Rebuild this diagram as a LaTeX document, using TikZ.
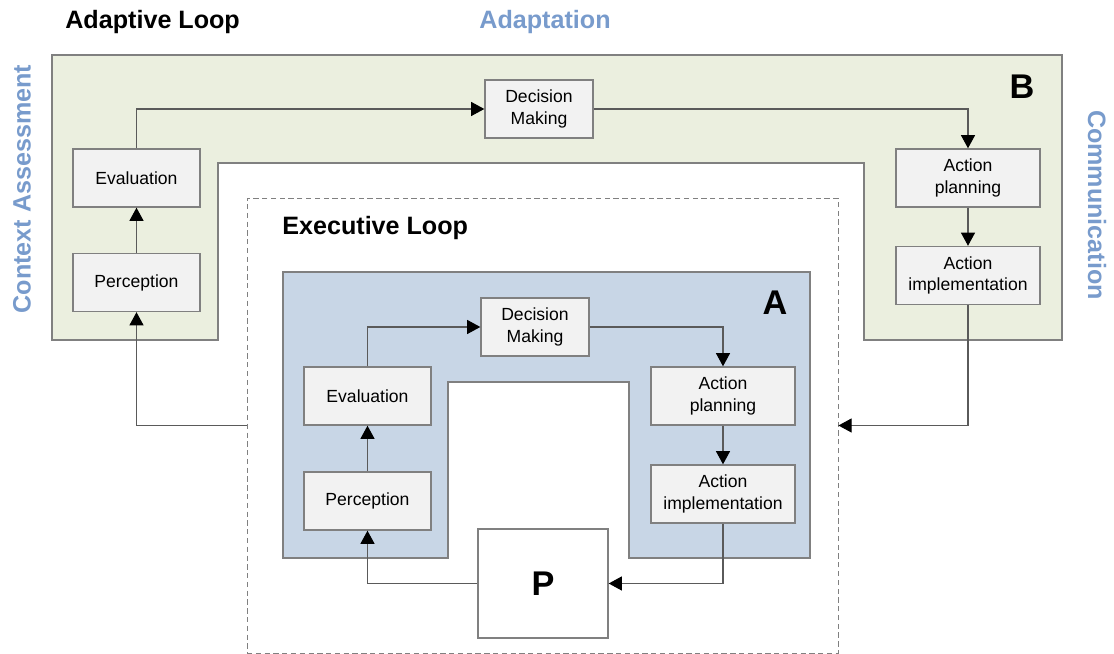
\documentclass[tikz,border=0pt]{standalone}
\usepackage{fontspec}
\setmainfont{Liberation Sans}
\usepackage{xcolor}
\usetikzlibrary{arrows.meta}

\definecolor{greenloop}{RGB}{235,239,223}
\definecolor{blueloop}{RGB}{200,214,230}
\definecolor{boxgray}{RGB}{242,242,242}
\definecolor{edgegray}{RGB}{128,128,128}
\definecolor{wiregray}{RGB}{90,90,90}
\definecolor{labelblue}{RGB}{120,155,204}

\begin{document}
\begin{tikzpicture}[
    box/.style={fill=boxgray, draw=edgegray, line width=0.8pt, minimum height=1.16cm,
        align=center, inner sep=0pt, font=\fontsize{10}{12}\selectfont},
    arr/.style={draw=wiregray, line width=0.6pt, -{Triangle[length=7.5pt,width=8pt,color=black]}},
    title/.style={font=\fontsize{14.3}{17}\selectfont\bfseries, inner sep=0pt},
    sidetitle/.style={font=\fontsize{14.3}{17}\selectfont\bfseries, text=labelblue},
    bigletter/.style={font=\fontsize{19.5}{22}\selectfont\bfseries}]

    \useasboundingbox (0,0) rectangle (22.28,13.08);

    %===========================
    % Adaptive loop (B)
    %===========================
    \filldraw[fill=greenloop, draw=edgegray, line width=0.8pt]
        (1.04,11.98) -- (21.24,11.98) -- (21.24,6.28) -- (17.28,6.28) -- (17.28,9.82)
        -- (4.36,9.82) -- (4.36,6.28) -- (1.04,6.28) -- cycle;

    \node at (1.3,12.64) [title, anchor=west] {Adaptive Loop};
    \node at (10.9,12.64) [sidetitle] {Adaptation};
    \node at (0.44,9.3) [sidetitle, rotate=90] {Context Assessment};
    \node at (21.94,8.98) [sidetitle, rotate=-90] {Communication};
    \node at (20.44,11.34) [bigletter] {B};

    \draw node (decB) at (10.78,10.9) [box, minimum width=2.16cm] {Decision\\Making};
    \draw node (evalB) at (2.73,9.52) [box, minimum width=2.54cm] {Evaluation};
    \draw node (percB) at (2.73,7.43) [box, minimum width=2.54cm] {Perception};
    \draw node (planB) at (19.36,9.52) [box, minimum width=2.88cm] {Action\\planning};
    \draw node (implB) at (19.36,7.57) [box, minimum width=2.88cm] {Action\\implementation};

    \draw[arr] (percB) to (evalB);
    \draw[arr] (evalB.north) |- (decB.west);
    \draw[arr] (decB.east) -| (planB.north);
    \draw[arr] (planB) to (implB);

    %===========================
    % Executive loop (A)
    %===========================
    \draw node (exec) at (10.85,4.57) [draw=edgegray, dash pattern=on 3pt off 2pt,
        line width=0.5pt, minimum width=11.82cm, minimum height=9.1cm] {};
    \node at (5.64,8.52) [title, anchor=west] {Executive Loop};

    \filldraw[fill=blueloop, draw=edgegray, line width=0.8pt]
        (5.66,7.64) -- (16.2,7.64) -- (16.2,1.92) -- (12.58,1.92) -- (12.58,5.44)
        -- (8.96,5.44) -- (8.96,1.92) -- (5.66,1.92) -- cycle;
    \node at (15.5,7.02) [bigletter] {A};

    \draw node (decA) at (10.7,6.54) [box, minimum width=2.16cm] {Decision\\Making};
    \draw node (evalA) at (7.35,5.16) [box, minimum width=2.54cm] {Evaluation};
    \draw node (percA) at (7.35,3.06) [box, minimum width=2.54cm] {Perception};
    \draw node (planA) at (14.46,5.16) [box, minimum width=2.88cm] {Action\\planning};
    \draw node (implA) at (14.46,3.2) [box, minimum width=2.88cm] {Action\\implementation};
    \draw node (plant) at (10.86,1.41) [fill=white, draw=edgegray, line width=0.8pt,
        minimum width=2.6cm, minimum height=2.18cm, bigletter] {P};

    \draw[arr] (percA) to (evalA);
    \draw[arr] (evalA.north) |- (decA.west);
    \draw[arr] (decA.east) -| (planA.north);
    \draw[arr] (planA) to (implA);
    \draw[arr] (implA.south) |- (plant.east);
    \draw[arr] (plant.west) -| (percA.south);

    % between the loops
    \draw[arr] (implB.south) |- (exec.east);
    \draw[arr] (exec.west) -| (percB.south);
\end{tikzpicture}
\end{document}
